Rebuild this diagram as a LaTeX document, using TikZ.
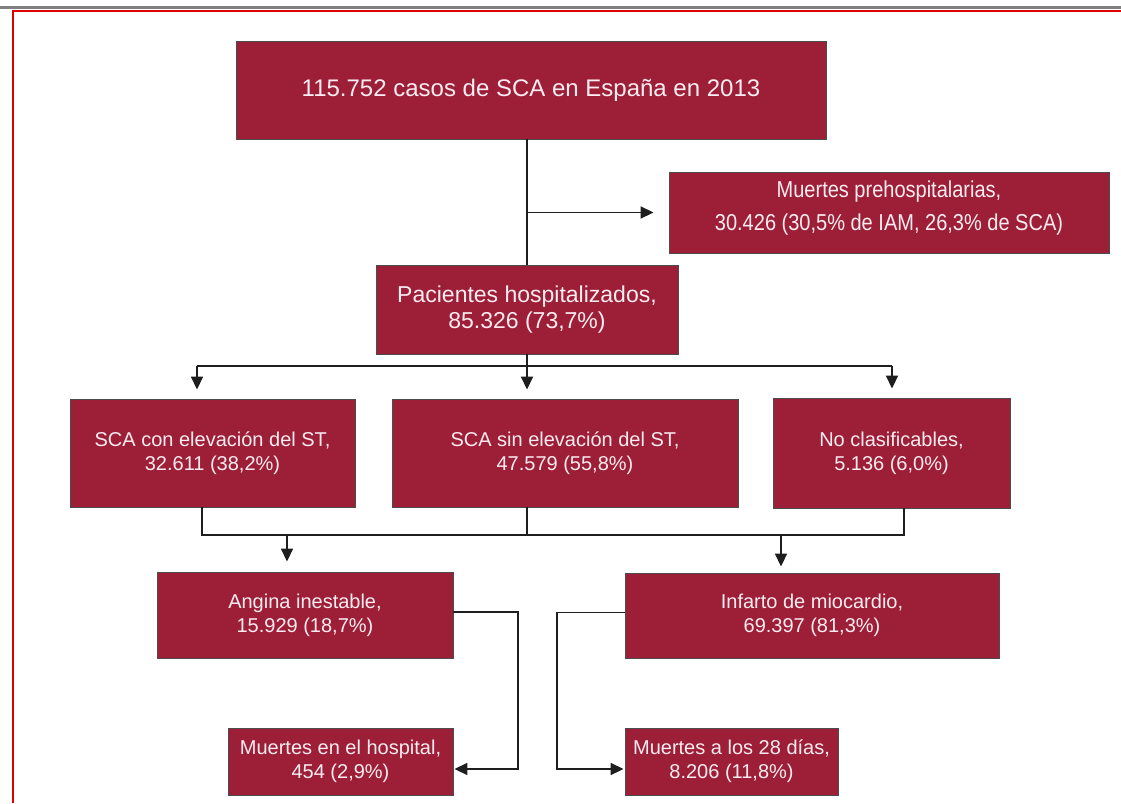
\documentclass[tikz,border=0pt]{standalone}
\usepackage{fontspec}
\usepackage{graphicx}
\setmainfont{Liberation Sans}
\usetikzlibrary{arrows.meta}
\definecolor{boxred}{RGB}{157,31,55}
\definecolor{boxtxt}{RGB}{250,236,240}
\definecolor{linec}{RGB}{30,30,30}
\definecolor{framered}{RGB}{225,0,0}
\begin{document}
\begin{tikzpicture}[x=1pt,y=-1pt,
  box/.style={draw=black!70, line width=0.9pt, fill=boxred, text=boxtxt, align=center, inner sep=0pt, font=\fontsize{20}{24}\selectfont},
  boxtext/.style={text=boxtxt, align=center, inner sep=0pt},
  conn/.style={draw=linec, line width=1.7pt},
  arr/.style={conn, -{Triangle[length=13pt,width=12pt]}},
]
\useasboundingbox (0,0) rectangle (1121,803);
\fill[white] (0,0) rectangle (1121,803);
\draw[gray, line width=3pt] (0,7) -- (1121,7);
\draw[framered, line width=2pt] (12.5,803) -- (12.5,11) -- (1121,11);

% boxes
\node[box, minimum width=590, minimum height=98, font=\fontsize{24}{28}\selectfont] (top) at (531,90) {115.752 casos de SCA en España en 2013};
\node[box, minimum width=440, minimum height=81] (preh) at (889,212.5) {};
\node[boxtext, font=\fontsize{23}{33}\selectfont] (preht) at ([yshift=4pt]preh.center) {\scalebox{0.87}[1]{Muertes prehospitalarias,}\\\scalebox{0.87}[1]{30.426 (30,5\% de IAM, 26,3\% de SCA)}};
\node[box, minimum width=302, minimum height=89, font=\fontsize{23}{26}\selectfont] (pac) at (527,309.5) {Pacientes hospitalizados,\\85.326 (73,7\%)};
\node[box, minimum width=285, minimum height=108] (sca1) at (212.5,453) {SCA con elevación del ST,\\32.611 (38,2\%)};
\node[box, minimum width=346, minimum height=108] (sca2) at (565,453) {SCA sin elevación del ST,\\47.579 (55,8\%)};
\node[box, minimum width=237, minimum height=110] (nocl) at (891.5,453) {No clasificables,\\5.136 (6,0\%)};
\node[box, minimum width=296, minimum height=86] (angina) at (305,615) {Angina inestable,\\15.929 (18,7\%)};
\node[box, minimum width=374, minimum height=85] (infarto) at (812,615.5) {Infarto de miocardio,\\69.397 (81,3\%)};
\node[box, minimum width=225, minimum height=67] (mhosp) at (340.5,761.5) {Muertes en el hospital,\\454 (2,9\%)};
\node[box, minimum width=213, minimum height=67] (m28) at (731.5,761.5) {Muertes a los 28 días,\\8.206 (11,8\%)};

% trunk
\draw[conn] (top.south -| pac.north) -- (pac.north);
\draw[arr, shorten >=15pt] (pac.north |- preh.west) -- (preh.west);

% first branching
\coordinate (hl) at (197,366);
\coordinate (hr) at (892,366);
\draw[conn] (pac.south) -- (pac.south |- hl);
\draw[conn] (hl) -- (hr);
\draw[arr, shorten >=9pt] (hl) -- (hl |- sca1.north);
\draw[arr, shorten >=9pt] (pac.south |- hl) -- (pac.south |- sca2.north);
\draw[arr, shorten >=9pt] (hr) -- (hr |- nocl.north);

% merging
\coordinate (ml) at (202,535);
\coordinate (mr) at (904,535);
\draw[conn] (ml |- sca1.south) -- (ml) -- (mr) -- (mr |- nocl.south);
\draw[conn] (pac.south |- sca2.south) -- (pac.south |- ml);
\coordinate (al) at (287,535);
\coordinate (ar) at (781,535);
\draw[arr, shorten >=10pt] (al) -- (al |- angina.north);
\draw[arr, shorten >=6pt] (ar) -- (ar |- infarto.north);

% deaths
\coordinate (lr) at (518,769);
\coordinate (rl) at (557,769);
\draw[arr, shorten >=1pt] ([yshift=3pt]angina.east) -- ([yshift=3pt]angina.east -| lr) -- (lr) -- (lr -| mhosp.east);
\draw[arr, shorten >=1pt] ([yshift=3pt]infarto.west) -- ([yshift=3pt]infarto.west -| rl) -- (rl) -- (rl -| m28.west);
\end{tikzpicture}
\end{document}
